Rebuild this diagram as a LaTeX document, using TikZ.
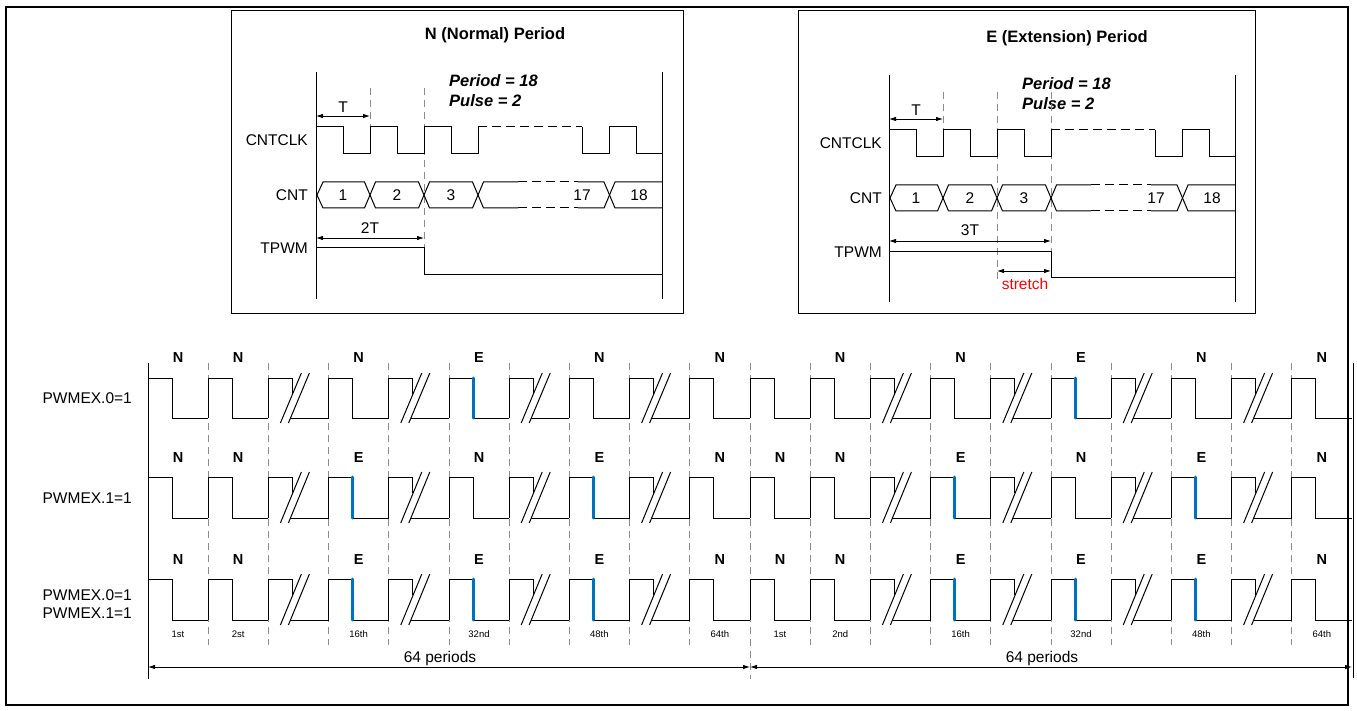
\documentclass[tikz,border=0pt]{standalone}
\usepackage{fontspec}
\setmainfont{Liberation Sans}
\usetikzlibrary{arrows.meta}
\definecolor{eblue}{RGB}{0,112,192}
\definecolor{gridgray}{RGB}{140,140,140}
\newcommand{\wrow}[3]{%
 \foreach \k/\t in {#3}{%
  \pgfmathsetmacro{\xa}{148+60.2*\k}%
  \ifcase\t\relax
   \draw[wave] (\xa,#2) -- (\xa,#1) -- (\xa+24,#1) -- (\xa+24,#2) -- (\xa+60.2,#2);
  \or
   \draw[wave] (\xa,#2) -- (\xa,#1) -- (\xa+24,#1) -- (\xa+24,#1+16);
   \draw[wave] (\xa+12,#2+5) -- (\xa+33,#1-5);
   \draw[wave] (\xa+20,#2+5) -- (\xa+41,#1-5);
   \draw[wave] (\xa+22,#2) -- (\xa+60.2,#2);
  \or
   \draw[wave] (\xa,#2) -- (\xa,#1) -- (\xa+24,#1);
   \draw[wave] (\xa+24,#2) -- (\xa+60.2,#2);
   \draw[eedge] (\xa+24,#1) -- (\xa+24,#2);
  \fi
 }}
\newcommand{\plabels}[3]{%
 \foreach \k/\s in {#3}{%
  \pgfmathsetmacro{\xc}{148+60.2*\k+30}%
  \node[plab] (#1-\k) at (\xc,#2) {\s};
 }}
\begin{document}
\begin{tikzpicture}[x=1pt,y=-1pt,
  wave/.style={line width=1pt,black,line join=miter},
  dwave/.style={wave,dash pattern=on 9pt off 5pt},
  gridline/.style={gridgray,dash pattern=on 7pt off 5pt,line width=0.8pt},
  sig/.style={font=\fontsize{15.5}{18}\selectfont,anchor=east,inner sep=0pt},
  val/.style={font=\fontsize{15.5}{18}\selectfont,inner sep=0pt},
  plab/.style={font=\bfseries\fontsize{14.5}{17}\selectfont,inner sep=0pt},
  ord/.style={font=\fontsize{9.5}{11}\selectfont,inner sep=0pt},
  title/.style={font=\bfseries\fontsize{16.5}{19}\selectfont,inner sep=0pt},
  formula/.style={font=\bfseries\itshape\fontsize{16.5}{19}\selectfont,anchor=west,inner sep=0pt},
  dim/.style={{Latex[length=7pt,width=4.5pt]}-{Latex[length=7pt,width=4.5pt]},line width=0.8pt},
  eedge/.style={line width=3pt,eblue,line cap=round},
  boxframe/.style={line width=0.9pt,black}]
\useasboundingbox (0,0) rectangle (1357,711);
% outer frame
\draw[line width=2pt] (6,7) rectangle (1348,705);
% top boxes
\draw[boxframe] (231,10) rectangle (683,313);
\draw[boxframe] (798,10) rectangle (1255,313);

% ---------- Box 1 : Normal ----------
\node[title] (t1) at (495,35) {N (Normal) Period};
\node[formula] (p1) at (449,81) {Period = 18};
\node[formula] (q1) at (449,101) {Pulse = 2};
\draw[wave] (316,72) -- (316,299);
\draw[wave] (662,72) -- (662,299);
\draw[gridline] (370,88) -- (370,127);
\draw[gridline] (424,88) -- (424,248);
\node[sig] (c1) at (308,140) {CNTCLK};
\node[sig] (n1) at (308,195) {CNT};
\node[sig] (w1) at (308,248) {TPWM};
\draw[wave] (316,127) -- (343,127) -- (343,154) -- (370,154) -- (370,127) -- (397,127) -- (397,154) -- (424,154) -- (424,127) -- (451,127) -- (451,154) -- (478,154) -- (478,127);
\draw[dwave] (478,127) -- (582,127);
\draw[wave] (582,127) -- (582,154) -- (609,154) -- (609,127) -- (636,127) -- (636,154) -- (662,154);
\draw[wave] (317,195) -- (323,182) -- (364.5,182) -- (375.5,208) -- (418.5,208) -- (429.5,182) -- (472.5,182) -- (483.5,208) -- (518,208);
\draw[wave] (317,195) -- (323,208) -- (364.5,208) -- (375.5,182) -- (418.5,182) -- (429.5,208) -- (472.5,208) -- (483.5,182) -- (518,182);
\draw[dwave] (518,182) -- (578,182);
\draw[dwave] (518,208) -- (578,208);
\draw[wave] (578,182) -- (604,182) -- (615,208) -- (662,208);
\draw[wave] (578,208) -- (604,208) -- (615,182) -- (662,182);
\node[val] (v11) at (343,195) {1};
\node[val] (v12) at (397,195) {2};
\node[val] (v13) at (451,195) {3};
\node[val] (v117) at (582,195) {17};
\node[val] (v118) at (639,195) {18};
\coordinate (ta1) at (316,116); \coordinate (tb1) at (370,116);
\draw[dim] (ta1) -- (tb1);
\node[val] (tl1) at (343,107) {T};
\coordinate (da1) at (316,238); \coordinate (db1) at (424,238);
\draw[dim] (da1) -- (db1);
\node[val] (dl1) at (370,228) {2T};
\draw[wave] (316,248) -- (424,248) -- (424,275) -- (662,275);

% ---------- Box 2 : Extension ----------
\begin{scope}[shift={(573,3)}]
\node[title] (t2) at (494,35) {E (Extension) Period};
\node[formula] (p2) at (449,81) {Period = 18};
\node[formula] (q2) at (449,101) {Pulse = 2};
\draw[wave] (316,72) -- (316,299);
\draw[wave] (662,72) -- (662,299);
\draw[gridline] (370,89) -- (370,127);
\draw[gridline] (424,89) -- (424,281);
\draw[gridline] (478,89) -- (478,249);
\node[sig] (c2) at (309,140) {CNTCLK};
\node[sig] (n2) at (309,195) {CNT};
\node[sig] (w2) at (309,249) {TPWM};
\draw[wave] (316,127) -- (343,127) -- (343,154) -- (370,154) -- (370,127) -- (397,127) -- (397,154) -- (424,154) -- (424,127) -- (451,127) -- (451,154) -- (478,154) -- (478,127);
\draw[dwave] (478,127) -- (582,127);
\draw[wave] (582,127) -- (582,154) -- (609,154) -- (609,127) -- (636,127) -- (636,154) -- (662,154);
\draw[wave] (317,195) -- (323,182) -- (364.5,182) -- (375.5,208) -- (418.5,208) -- (429.5,182) -- (472.5,182) -- (483.5,208) -- (518,208);
\draw[wave] (317,195) -- (323,208) -- (364.5,208) -- (375.5,182) -- (418.5,182) -- (429.5,208) -- (472.5,208) -- (483.5,182) -- (518,182);
\draw[dwave] (518,182) -- (578,182);
\draw[dwave] (518,208) -- (578,208);
\draw[wave] (578,182) -- (604,182) -- (615,208) -- (662,208);
\draw[wave] (578,208) -- (604,208) -- (615,182) -- (662,182);
\node[val] (v21) at (343,195) {1};
\node[val] (v22) at (397,195) {2};
\node[val] (v23) at (451,195) {3};
\node[val] (v217) at (583,195) {17};
\node[val] (v218) at (639,195) {18};
\coordinate (ta2) at (316,116); \coordinate (tb2) at (370,116);
\draw[dim] (ta2) -- (tb2);
\node[val] (tl2) at (343,107) {T};
\coordinate (da2) at (316,238); \coordinate (db2) at (478,238);
\draw[dim] (da2) -- (db2);
\node[val] (dl2) at (397,227) {3T};
\draw[wave] (316,249) -- (478,249) -- (478,275) -- (662,275);
\coordinate (sa2) at (424,268); \coordinate (sb2) at (478,268);
\draw[dim] (sa2) -- (sb2);
\node[val,text=red] (sl2) at (452,281) {stretch};
\end{scope}

% ---------- Bottom timing ----------
\foreach \k in {1,...,9,11,12,...,19}{
  \pgfmathsetmacro{\xg}{148+60.2*\k}
  \draw[gridline] (\xg,363) -- (\xg,645);
}
\draw[gridline] (750,363) -- (750,679);
\draw[wave] (148,363) -- (148,679);
\draw[wave] (1353,363) -- (1353,678);

\node[sig] (r1) at (132,398) {PWMEX.0=1};
\node[sig] (r2) at (132,498) {PWMEX.1=1};
\node[sig,align=right] (r3) at (132,604) {PWMEX.0=1\\PWMEX.1=1};

\wrow{378}{418}{0/0,1/0,2/1,3/0,4/1,5/2,6/1,7/0,8/1,9/0,10/0,11/0,12/1,13/0,14/1,15/2,16/1,17/0,18/1,19/0}
\wrow{477}{518}{0/0,1/0,2/1,3/2,4/1,5/0,6/1,7/2,8/1,9/0,10/0,11/0,12/1,13/2,14/1,15/0,16/1,17/2,18/1,19/0}
\wrow{579}{620}{0/0,1/0,2/1,3/2,4/1,5/2,6/1,7/2,8/1,9/0,10/0,11/0,12/1,13/2,14/1,15/2,16/1,17/2,18/1,19/0}

\plabels{ra}{358}{0/N,1/N,3/N,5/E,7/N,9/N,11/N,13/N,15/E,17/N,19/N}
\plabels{rb}{458}{0/N,1/N,3/E,5/N,7/E,9/N,10/N,11/N,13/E,15/N,17/E,19/N}
\plabels{rc}{560}{0/N,1/N,3/E,5/E,7/E,9/N,10/N,11/N,13/E,15/E,17/E,19/N}

\foreach \k/\s in {0/1st,1/2st,3/16th,5/32nd,7/48th,9/64th,10/1st,11/2nd,13/16th,15/32nd,17/48th,19/64th}{
  \pgfmathsetmacro{\xc}{148+60.2*\k+30}
  \node[ord] (o-\k) at (\xc,634) {\s};
}

\coordinate (g0) at (148,667);
\coordinate (g1) at (750,667);
\coordinate (g2) at (1352,667);
\draw[dim] (g0) -- (g1);
\draw[dim] (g1) -- (g2);
\node[val] (m1) at (440,658) {64 periods};
\node[val] (m2) at (1042,658) {64 periods};
\end{tikzpicture}
\end{document}
